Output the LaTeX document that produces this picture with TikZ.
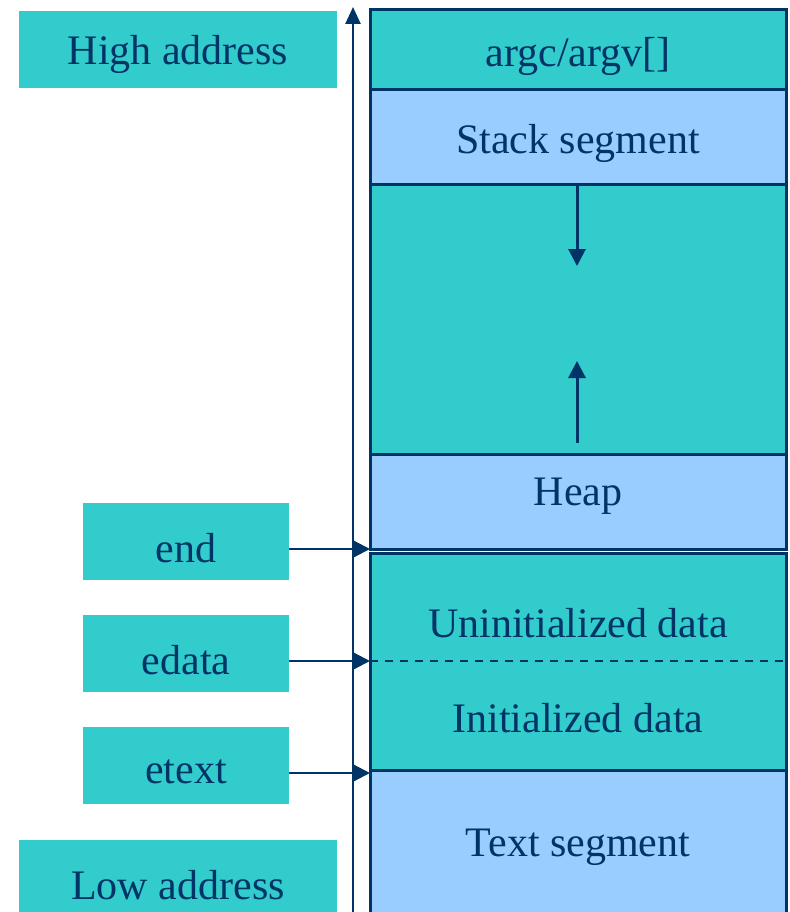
\documentclass[tikz,border=0pt]{standalone}
\usepackage{fontspec}
\setmainfont{Liberation Serif}
\usetikzlibrary{arrows.meta}
\definecolor{teal1}{HTML}{33CCCC}
\definecolor{lblue}{HTML}{99CCFF}
\definecolor{navy}{HTML}{003366}
\begin{document}
\begin{tikzpicture}[x=1pt,y=-1pt,
  seg/.style={draw=navy,line width=3pt},
  txt/.style={text=navy,font=\fontsize{42}{48}\selectfont},
  ptr/.style={navy,line width=2.5pt,-{Triangle[length=18pt,width=18pt]}}]
\useasboundingbox (0,0) rectangle (789,912);
\begin{scope}
\clip (0,0) rectangle (789,912);
% left labels
\path[fill=teal1] (19,11) rectangle (337,88);
\node[txt] (high) at (178,54) {High address};
\path[fill=teal1] (19,840) rectangle (337,925);
\node[txt] (low) at (178,885) {Low address};
\path[fill=teal1] (83,503) rectangle (289,580);
\node[txt] (endl) at (186,548) {end};
\coordinate (endr) at (289,549);
\path[fill=teal1] (83,615) rectangle (289,692);
\node[txt] (edata) at (186,660) {edata};
\coordinate (edatar) at (289,661);
\path[fill=teal1] (83,727) rectangle (289,804);
\node[txt] (etext) at (186,772) {etext};
\coordinate (etextr) at (289,773);
% memory column
\path[seg,fill=teal1] (370,10) rectangle (786,90);
\path[seg,fill=lblue] (370,90) rectangle (786,185);
\path[seg,fill=teal1] (370,185) rectangle (786,454);
\path[seg,fill=lblue] (370,454) rectangle (786,549);
\path[seg,fill=teal1] (370,553) rectangle (786,770);
\path[seg,fill=lblue] (370,770) rectangle (786,930);
\draw[navy,line width=2pt,dash pattern=on 8pt off 7pt] (370,661) -- (786,661);
\node[txt] (argc) at (578,56) {argc/argv[]};
\node[txt] (stack) at (578,143) {Stack segment};
\node[txt] (heap) at (578,496) {Heap};
\node[txt] (uninit) at (578,623) {Uninitialized data};
\node[txt] (init) at (578,718) {Initialized data};
\node[txt] (text) at (578,847) {Text segment};
% growth arrows
\coordinate (sa) at (577,185);
\coordinate (sb) at (577,266);
\coordinate (ha) at (577,443);
\coordinate (hb) at (577,361);
\draw[navy,line width=3pt,-{Triangle[length=17pt,width=17pt]}] (sa) -- (sb);
\draw[navy,line width=3pt,-{Triangle[length=17pt,width=17pt]}] (ha) -- (hb);
% address axis
\coordinate (axb) at (353,930);
\coordinate (axt) at (353,7);
\draw[navy,line width=2.5pt,-{Triangle[length=17pt,width=15pt]}] (axb) -- (axt);
% pointers
\coordinate (m1) at (370,549);
\coordinate (m2) at (370,661);
\coordinate (m3) at (370,773);
\draw[ptr] (endr) -- (m1);
\draw[ptr] (edatar) -- (m2);
\draw[ptr] (etextr) -- (m3);
\end{scope}
\end{tikzpicture}
\end{document}
